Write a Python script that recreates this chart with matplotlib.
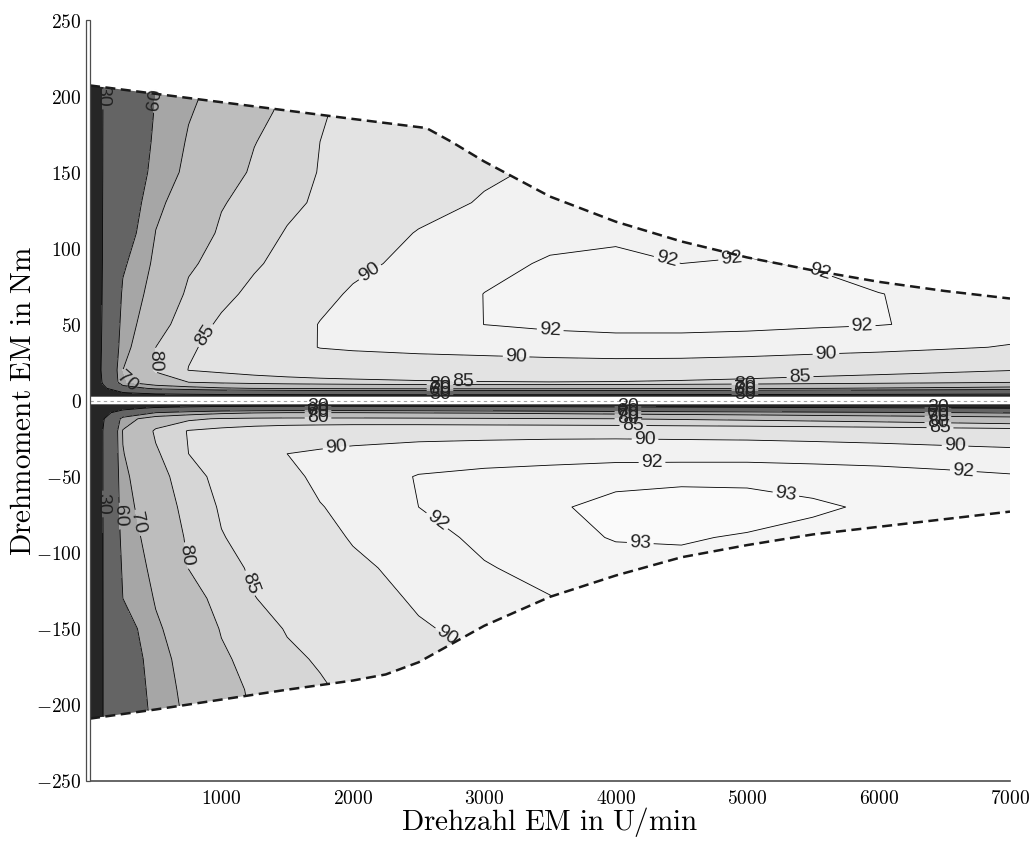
import matplotlib
matplotlib.use("Agg")
import matplotlib.pyplot as plt
import numpy as np
from matplotlib.path import Path
from matplotlib.patches import PathPatch, Rectangle

plt.rcParams['mathtext.fontset'] = 'cm'

# speed grid of the efficiency table (U/min)
speed = [0, 100, 250, 500, 750, 1000, 1250, 1500, 1750, 2000, 2500, 3000, 3500,
         4000, 4500, 5000, 5500, 6000, 6500, 7000]

# motor mode: torque rows (Nm) and efficiency in %
torque_mot = [2.5, 5, 8, 12, 20, 35, 50, 70, 90, 110, 130, 150, 170, 190, 210]
eta_mot = [
    [0, 2, 5, 8, 9, 10, 10.5, 11, 11.5, 12, 12, 12, 12, 11.5, 11, 10.5, 10, 9.5, 9, 8.5],
    [0, 12, 28, 38, 41.5, 44, 45, 46, 46.5, 47, 47.5, 47.5, 47, 46.5, 46, 45, 44, 43, 41.5, 40],
    [0, 25, 52, 63, 66.5, 69, 70.2, 71, 71.5, 72, 72.5, 72.5, 72.3, 72, 71.5, 71, 70.2, 69.3, 68.3, 67.2],
    [0, 33, 69, 77, 80, 81.5, 82.5, 83.2, 83.7, 84.0, 84.5, 84.8, 84.9, 84.8, 84.4, 83.8, 83.0, 82.2, 81.3, 80.3],
    [0, 35.8, 70, 80.6, 85.1, 86.0, 86.8, 87.3, 87.6, 87.8, 88.0, 88.1, 88.3, 88.5, 88.4, 88.0, 87.3, 86.7, 86.0, 85.2],
    [0, 34.4, 66.7, 80.0, 84.5, 86.2, 87.5, 88.9, 90.1, 90.4, 90.8, 91.1, 91.4, 91.5, 91.5, 91.4, 91.2, 90.9, 90.4, 89.8],
    [0, 33.5, 64.6, 77.5, 83.0, 85.7, 87.3, 88.8, 90.1, 90.5, 91.2, 92.01, 92.2, 92.3, 92.3, 92.25, 92.15, 92.05, 91.8, 91.4],
    [0, 32.5, 62.0, 74.5, 81.0, 83.9, 86.0, 87.7, 89.3, 90.3, 91.1, 92.02, 92.3, 92.45, 92.45, 92.35, 92.2, 92.02, 91.8, 91.5],
    [0, 31.8, 58.2, 72.2, 79.2, 81.9, 84.5, 86.25, 87.8, 89.4, 90.7, 91.6, 92.15, 92.25, 92.0, 92.05, 91.95, 91.6, 91.2, 90.8],
    [0, 31.4, 52.9, 70.2, 76.3, 80.9, 83.2, 85.3, 86.6, 87.9, 90.2, 91.0, 91.6, 91.8, 91.9, 91.8, 91.6, 91.3, 91.0, 90.6],
    [0, 31.2, 49.2, 68.2, 74.1, 79.6, 82.0, 84.1, 85.6, 86.7, 88.75, 90.3, 91.0, 91.4, 91.6, 91.6, 91.5, 91.3, 91.0, 90.7],
    [0, 30.9, 46.0, 64.5, 72.2, 77.0, 80.9, 83.2, 85.2, 86.0, 87.8, 89.5, 90.5, 90.8, 91.0, 91.0, 90.9, 90.7, 90.4, 90.1],
    [0, 30.8, 44.1, 62.6, 70.9, 75.3, 79.8, 82.3, 85.0, 86.0, 88.1, 90.1, 90.6, 90.8, 90.9, 90.9, 90.9, 90.7, 90.4, 90.1],
    [0, 30.6, 42.7, 61.1, 69.3, 73.8, 77.9, 81.5, 84.6, 86.0, 88.2, 90.1, 90.5, 90.7, 90.8, 90.8, 90.7, 90.5, 90.2, 89.9],
    [0, 30.6, 41.3, 59.3, 67.3, 72.5, 76.4, 80.2, 83.4, 85.5, 87.7, 90.0, 90.3, 90.5, 90.6, 90.6, 90.5, 90.3, 90.0, 89.7],
]

# generator mode: torque rows (Nm) and efficiency in %
torque_gen = [-210, -190, -170, -150, -130, -110, -90, -70, -50, -35, -20, -12, -8, -5, -2.5]
eta_gen = [
    [0, 30.1, 45.1, 63.8, 71.7, 76.5, 80.5, 82.2, 84.0, 85.4, 87.2, 89.1, 90.2, 90.6, 90.8, 90.9, 90.9, 90.8, 90.6, 90.4],
    [0, 30.1, 47.0, 65.3, 72.6, 77.6, 81.0, 83.0, 84.5, 85.9, 87.8, 89.7, 90.4, 90.8, 91.0, 91.1, 91.1, 91.0, 90.8, 90.6],
    [0, 30.1, 49.2, 66.6, 73.6, 79.1, 81.9, 84.2, 85.4, 86.5, 88.3, 90.1, 90.9, 91.3, 91.6, 91.7, 91.7, 91.6, 91.4, 91.2],
    [0, 30.2, 53.1, 68.6, 75.1, 80.4, 83.1, 85.3, 86.4, 87.5, 89.7, 90.8, 91.5, 92.0, 92.2, 92.3, 92.3, 92.2, 92.0, 91.8],
    [0, 30.2, 60.0, 70.8, 77.6, 81.9, 84.9, 86.2, 87.5, 88.6, 90.4, 91.3, 91.95, 92.4, 92.6, 92.7, 92.7, 92.6, 92.4, 92.2],
    [0, 30.3, 62.1, 72.9, 80.1, 83.4, 85.7, 86.9, 88.2, 89.5, 90.8, 91.9, 92.4, 92.7, 92.85, 92.85, 92.7, 92.5, 92.3, 92.0],
    [0, 30.3, 64.5, 74.6, 80.9, 84.8, 86.3, 87.7, 89.2, 90.2, 91.5, 92.3, 92.75, 93.05, 93.05, 92.95, 92.8, 92.6, 92.35, 92.1],
    [0, 30.5, 66.7, 75.9, 82.1, 85.5, 87.0, 88.4, 89.9, 90.6, 92.0, 92.5, 92.9, 93.2, 93.3, 93.25, 93.1, 92.9, 92.6, 92.3],
    [0, 30.6, 68.1, 77.4, 83.5, 86.2, 87.8, 89.4, 90.5, 91.0, 92.1, 92.4, 92.6, 92.8, 92.85, 92.85, 92.75, 92.6, 92.4, 92.15],
    [0, 30.6, 69.6, 79.2, 85.0, 86.7, 88.3, 90.0, 90.4, 90.7, 91.1, 91.3, 91.4, 91.5, 91.5, 91.5, 91.4, 91.3, 91.1, 90.9],
    [0, 30.7, 70.6, 80.9, 85.3, 86.5, 87.4, 88.0, 88.4, 88.7, 89.0, 89.1, 89.2, 89.2, 89.1, 89.0, 88.8, 88.5, 88.1, 87.6],
    [0, 28, 65, 76, 79, 80.5, 81.2, 81.5, 81.5, 81.5, 81.2, 80.8, 80.4, 80.0, 79.4, 78.8, 78.0, 77.1, 76.0, 74.8],
    [0, 20, 45, 60, 65, 68, 69.5, 70, 70, 70, 69.5, 69, 68, 67, 66, 65, 63.5, 62, 60.5, 59],
    [0, 5, 20, 35, 41, 45, 47, 48, 48, 48, 47, 45, 43, 41, 39, 37, 35, 33, 31, 29],
    [0, 0, 0, 5, 8, 10, 10.5, 11, 11, 11, 10, 9, 8, 7, 6, 5, 4, 3, 2, 1],
]

# full-load torque limits
n_limit_mot = [0, 500, 1000, 1500, 2000, 2560, 2750, 3000, 3500, 4000, 4500, 5000, 5500, 6000, 6500, 7000]
t_limit_mot = [207, 201.5, 196, 190.5, 185, 179, 170, 157, 134, 117.5, 104.5, 94, 85.5, 78, 72, 67]
n_limit_gen = [0, 500, 1000, 1500, 2000, 2250, 2500, 2750, 3000, 3500, 4000, 4500, 5000, 5500, 6000, 6500, 7000]
t_limit_gen = [-209, -203, -196.5, -190, -184, -180, -172, -160, -148, -129, -115, -103, -95, -88, -83, -78, -73]

levels = [30, 60, 70, 80, 85, 90, 92, 93]
fill_levels = [0] + levels + [100]
fill_colors = ['#262626', '#646464', '#a6a6a6', '#bdbdbd', '#d6d6d6',
               '#e3e3e3', '#f2f2f2', '#f5f5f5', '#fafafa']

# where the contour labels sit (U/min, Nm)
label_pos_mot = [(100, 200), (470, 198), (266, 12), (479, 26), (837, 45), (2093, 89),
                 (3500, 43), (4390, 93), (4885, 90), (5531, 80), (5874, 52), (3241, 25), (5600, 30),
                 (2838, 12.5), (5402, 17),
                 (2663, 4), (2663, 6), (2663, 7.5), (2663, 9.5),
                 (4983, 4), (4983, 6), (4983, 7.5), (4983, 9.5)]
label_pos_gen = [(38, -68), (205, -76), (327, -81), (723, -102), (1217, -120), (2716, -154),
                 (2625, -81), (4185, -97), (5303, -57), (4276, -39), (4223, -26), (4131, -17),
                 (1864, -24), (6642, -50), (6581, -32), (6467, -20),
                 (1735, -4), (1735, -6), (1735, -7.5), (1735, -9.5),
                 (4093, -4), (4093, -6), (4093, -7.5), (4093, -9.5),
                 (6452, -4), (6452, -6), (6452, -7.5), (6452, -9.5)]

fig = plt.figure(figsize=(10.31, 8.43), dpi=100)
ax = fig.add_axes([90 / 1031, 1 - 781 / 843, 920 / 1031, 761 / 843])
ax.set_xlim(0, 7000)
ax.set_ylim(-250, 250)


def draw_half(torque, eta, n_lim, t_lim, t_edge, label_pos):
    verts = [(speed[0], t_edge)] + list(zip(n_lim, t_lim)) + [(speed[-1], t_edge), (speed[0], t_edge)]
    path = Path(verts, closed=True)
    clip = PathPatch(path, transform=ax.transData, fc='none', ec='none')
    ax.add_patch(clip)

    N, T = np.meshgrid(speed, torque)
    Z = np.array(eta)
    cf = ax.contourf(N, T, Z, levels=fill_levels, colors=fill_colors)
    cf.set_clip_path(clip)
    cl = ax.contour(N, T, Z, levels=levels, colors='k', linewidths=0.6)
    cl.set_clip_path(clip)
    texts = ax.clabel(cl, fmt='%d', fontsize=14, colors='#222222', inline=True,
                      inline_spacing=1, manual=label_pos)
    for t in texts:
        t.set_fontfamily('Liberation Sans')
        if not path.contains_point(t.get_position()):
            t.remove()

    ax.plot(n_lim, t_lim, color='#1a1a1a', lw=1.8, ls=(0, (4, 2.2)))


draw_half(torque_mot, eta_mot, n_limit_mot, t_limit_mot, 2.5, label_pos_mot)
draw_half(torque_gen, eta_gen, n_limit_gen, t_limit_gen, -2.5, label_pos_gen)

# zero-torque line
ax.axhline(0, color='0.65', lw=0.8, ls=(0, (3, 3)))

xt = [1000, 2000, 3000, 4000, 5000, 6000, 7000]
yt = [-250, -200, -150, -100, -50, 0, 50, 100, 150, 200, 250]
ax.set_xticks(xt)
ax.set_xticklabels([r'$%d$' % v for v in xt], fontsize=14)
ax.set_yticks(yt)
ax.set_yticklabels([r'$%d$' % v for v in yt], fontsize=14)
ax.tick_params(axis='x', length=0, pad=5.5)
ax.tick_params(axis='y', length=0, pad=6)

ax.spines['top'].set_visible(False)
ax.spines['right'].set_visible(False)
ax.spines['left'].set_visible(False)
ax.spines['bottom'].set_color('#4d4d4d')
ax.spines['bottom'].set_linewidth(1.2)
ax.add_patch(Rectangle((-0.0045, 0), 0.0045, 1, transform=ax.transAxes,
                       fc='white', ec='#4d4d4d', lw=0.9, clip_on=False, zorder=5))

ax.set_xlabel(r'$\mathrm{Drehzahl\ EM\ in\ U/min}$', fontsize=21, va='center')
ax.xaxis.set_label_coords(0.5, -0.054)
ax.set_ylabel(r'$\mathrm{Drehmoment\ EM\ in\ Nm}$', fontsize=21, va='center')
ax.yaxis.set_label_coords(-0.073, 0.5)

fig.savefig('out.png', dpi=100)
